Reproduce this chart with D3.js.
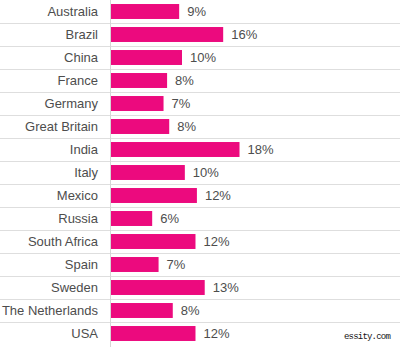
<!DOCTYPE html>
<html>
<head>
<meta charset="utf-8">
<script src="https://cdn.jsdelivr.net/npm/d3@7"></script>
<style>
  body { margin: 0; background: #fff; }
  svg { display: block; font-family: "Liberation Sans", Arial, sans-serif; }
  .grid line { stroke: #dedede; stroke-width: 1; }
  .bar { fill: #ec0a7e; }
  .val, .y-axis text { fill: #4d4d4d; font-size: 13px; }
  .mark { font-family: "Liberation Mono", "DejaVu Sans Mono", monospace; font-size: 9px; letter-spacing: -0.8px; fill: #111; }
</style>
</head>
<body>
<div class="container"></div>
<script>
// categories, top to bottom
const countries = ["Australia", "Brazil", "China", "France", "Germany", "Great Britain", "India",
                   "Italy", "Mexico", "Russia", "South Africa", "Spain", "Sweden", "The Netherlands", "USA"];
// bar lengths (percent)
const shares = [9.6, 15.8, 10.0, 7.9, 7.4, 8.2, 18.1, 10.4, 12.1, 5.8, 11.9, 6.7, 13.2, 8.7, 11.9];
// printed value labels
const shareLabels = ["9%", "16%", "10%", "8%", "7%", "8%", "18%", "10%", "12%", "6%", "12%", "7%", "13%", "8%", "12%"];

const w = 400;
const h = 351;
const axisX = 110;
const plotH = 345;

const data = countries.map((c, i) => ({ name: c, v: shares[i], label: shareLabels[i] }));

/* scales */
const xScale = d3.scaleLinear()
                 .domain([0, 40])
                 .range([axisX + 1, axisX + 1 + 284]);

const yScale = d3.scaleBand()
                 .domain(countries)
                 .range([0, plotH])
                 .paddingInner(0.35)
                 .paddingOuter(0.175);

const svg = d3.select(".container")
              .append("svg")
              .attr("width", w)
              .attr("height", h);

/* row separators */
const step = yScale.step();
svg.append("g")
   .attr("class", "grid")
   .selectAll("line")
   .data(countries.slice(1))
   .enter()
   .append("line")
   .attr("x1", 0)
   .attr("x2", w)
   .attr("y1", d => Math.round(yScale(d) - step * 0.175) + 0.5)
   .attr("y2", d => Math.round(yScale(d) - step * 0.175) + 0.5);

/* vertical axis line */
svg.append("line")
   .attr("x1", axisX + 0.5)
   .attr("x2", axisX + 0.5)
   .attr("y1", 0)
   .attr("y2", plotH + 2)
   .attr("stroke", "#d6d6d6");

/* bars */
svg.selectAll("rect.bar")
   .data(data)
   .enter()
   .append("rect")
   .attr("class", "bar")
   .attr("x", xScale(0))
   .attr("y", d => yScale(d.name))
   .attr("width", d => xScale(d.v) - xScale(0))
   .attr("height", yScale.bandwidth());

/* value labels */
svg.selectAll("text.val")
   .data(data)
   .enter()
   .append("text")
   .attr("class", "val")
   .attr("x", d => xScale(d.v) + 8)
   .attr("y", d => yScale(d.name) + yScale.bandwidth() / 2)
   .attr("dy", "0.36em")
   .text(d => d.label);

/* category labels */
const yAxis = d3.axisLeft(yScale).tickSize(0).tickPadding(12);
svg.append("g")
   .attr("class", "y-axis")
   .attr("transform", "translate(" + axisX + ",0)")
   .call(yAxis)
   .call(g => g.select(".domain").remove())
   .call(g => g.selectAll("text").attr("font-family", null).attr("font-size", null));

/* watermark */
svg.append("text")
   .attr("class", "mark")
   .attr("x", 390)
   .attr("y", 339)
   .attr("text-anchor", "end")
   .text("essity.com");
</script>
</body>
</html>
